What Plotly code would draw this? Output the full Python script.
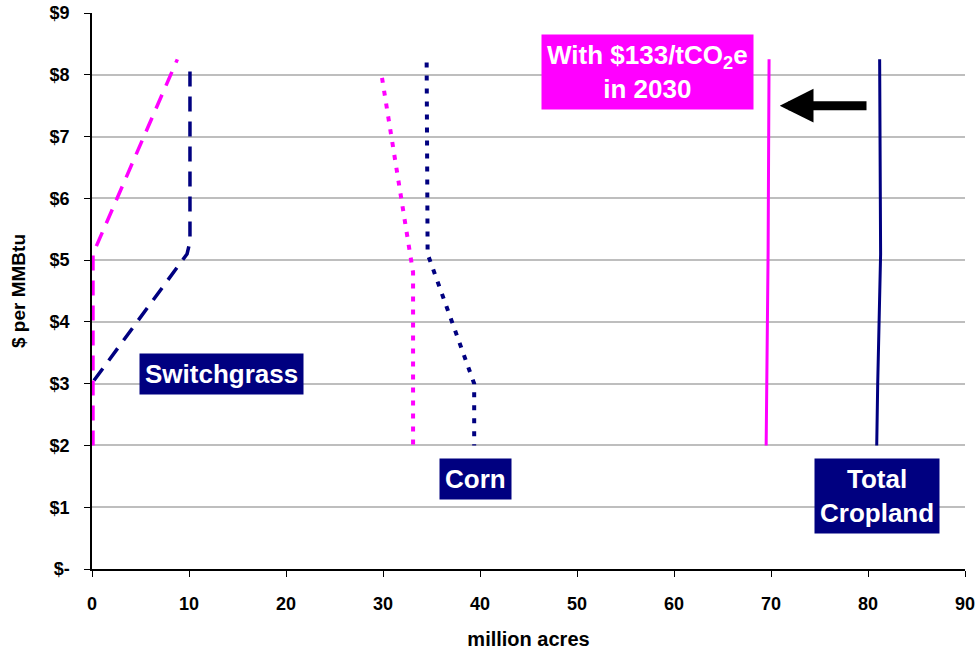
import plotly.graph_objects as go

# Data (million acres vs $ per MMBtu)
sw_base_x = [0.2, 9.8, 10.1, 10.1]
sw_base_y = [3.05, 5.1, 5.3, 8.1]
sw_co2_x = [0.1, 0.1, 8.8]
sw_co2_y = [2.0, 5.1, 8.25]
corn_base_x = [34.5, 34.6, 39.4, 39.4]
corn_base_y = [8.2, 5.1, 3.0, 2.0]
corn_co2_x = [29.9, 32.8, 33.1, 33.1]
corn_co2_y = [7.95, 5.05, 4.8, 2.0]
tot_base_x = [81.2, 81.3, 81.0, 80.9]
tot_base_y = [8.25, 5.1, 3.0, 2.0]
tot_co2_x = [69.8, 69.7, 69.5]
tot_co2_y = [8.25, 5.1, 2.0]

y_ticks = [0, 1, 2, 3, 4, 5, 6, 7, 8, 9]
y_labels = ["$-", "$1", "$2", "$3", "$4", "$5", "$6", "$7", "$8", "$9"]
x_ticks = [0, 10, 20, 30, 40, 50, 60, 70, 80, 90]
x_labels = [str(v) for v in x_ticks]

NAVY = "#000080"
MAG = "#FF00FF"
FONT = "Liberation Sans, Arial, sans-serif"

fig = go.Figure()
def add(x, y, color, dash, width):
    fig.add_trace(go.Scatter(x=x, y=y, mode="lines",
                             line=dict(color=color, dash=dash, width=width),
                             showlegend=False, hoverinfo="skip"))

add(sw_base_x, sw_base_y, NAVY, "15px,10px", 3.5)
add(sw_co2_x, sw_co2_y, MAG, "15px,10px", 3.5)
add(corn_base_x, corn_base_y, NAVY, "5px,8px", 4)
add(corn_co2_x, corn_co2_y, MAG, "5px,8px", 4)
add(tot_base_x, tot_base_y, NAVY, "solid", 3)
add(tot_co2_x, tot_co2_y, MAG, "solid", 3)

def box(x, y, text, bg, size=26):
    fig.add_annotation(x=x, y=y, xref="x", yref="y", text=text, showarrow=False,
                       bgcolor=bg, font=dict(family=FONT, size=size, color="white"),
                       borderpad=5, align="center")

box(13.3, 3.16, "<b>Switchgrass</b>", NAVY)
box(39.5, 1.46, "<b>Corn</b>", NAVY)
box(80.9, 1.18, "<b>Total<br>Cropland</b>", NAVY)
box(57.3, 8.05, "<b>With $133/tCO<sub>2</sub>e<br>in 2030</b>", MAG)

fig.add_annotation(x=70.9, y=7.5, ax=80.0, ay=7.5, xref="x", yref="y",
                   axref="x", ayref="y", text="", showarrow=True,
                   arrowhead=2, arrowsize=0.75, arrowwidth=9, arrowcolor="black")

fig.update_layout(
    width=979, height=650,
    margin=dict(l=92, r=14, t=13, b=81),
    paper_bgcolor="white", plot_bgcolor="white",
    font=dict(family=FONT, color="black"),
)
fig.update_xaxes(range=[0, 90], tickvals=x_ticks, ticktext=["<b>" + t + "</b>" for t in x_labels],
                 showgrid=False, zeroline=False, automargin=False,
                 showline=True, linecolor="black", linewidth=1.5,
                 ticks="outside", ticklen=6, tickcolor="black", ticklabelstandoff=12,
                 tickfont=dict(size=18, family=FONT),
                 title=dict(text="<b>million acres</b>", font=dict(size=20), standoff=19))
fig.update_yaxes(range=[0, 9], tickvals=y_ticks, ticktext=["<b>" + t + "</b>" for t in y_labels],
                 showgrid=True, gridcolor="#BEBEBE", gridwidth=2, zeroline=False, automargin=False,
                 showline=True, linecolor="black", linewidth=1.5,
                 ticks="outside", ticklen=6, tickcolor="black", ticklabelstandoff=11,
                 tickfont=dict(size=18, family=FONT),
                 title=dict(text="<b>$ per MMBtu</b>", font=dict(size=19), standoff=19))

fig.write_html("out.html", config={"displayModeBar": False},
               post_script="document.body.style.margin='0';")
